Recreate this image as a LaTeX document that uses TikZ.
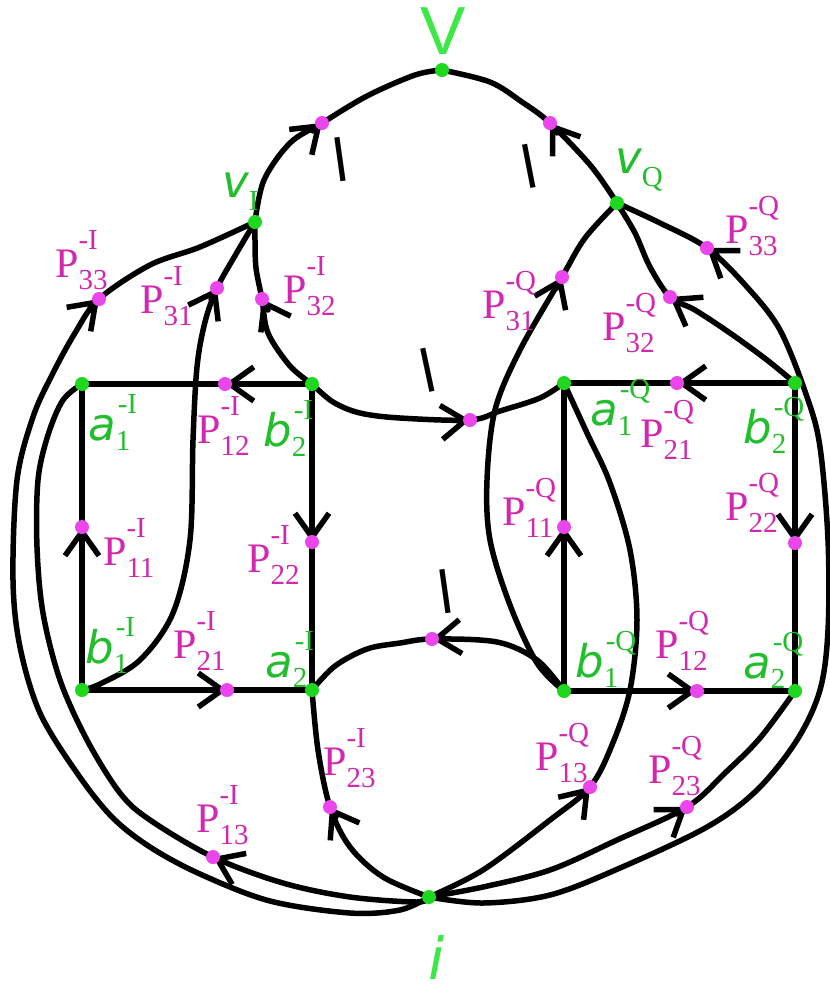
\documentclass[tikz,border=0pt]{standalone}
\usepackage{fontspec}
\setmainfont{Liberation Serif}
\newfontfamily\handfont{DejaVu Sans}
\newfontfamily\bigsans{Liberation Sans}
\usetikzlibrary{arrows.meta,calc}
\definecolor{gdot}{RGB}{30,215,30}
\definecolor{glab}{RGB}{35,190,45}
\definecolor{gbig}{RGB}{60,232,70}
\definecolor{mdot}{RGB}{235,70,235}
\definecolor{mlab}{RGB}{210,40,175}
\newlength\scrw
\newcommand\subsup[4]{%
  \setbox0=\hbox{#1}\setbox2=\hbox{#2}%
  \scrw=\wd0 \ifdim\wd2>\scrw \scrw=\wd2 \fi
  \rlap{\raise#3\box0}\rlap{\raise#4\box2}\kern\scrw}
\newcommand\scrfont{\fontsize{29pt}{29pt}\selectfont}
\newcommand\Plab[5]{\node[plab] (#1) at (#2,#3) {P\subsup{\scrfont #4}{\scrfont #5}{-12pt}{28pt}};}
\newcommand\Glab[6]{\node[glabel] (#1) at (#2,#3) {{\handfont\itshape #4}\subsup{\scrfont #5}{\kern2pt\scrfont #6}{-10pt}{27pt}};}
\newcommand\arrowat[3]{\draw[edge,arr] ($(#1)+(#2,#3)$) -- (#1);}
\tikzset{
  edge/.style={line width=5.5pt,line cap=round,line join=round,black},
  arr/.style={-{Straight Barb[length=24pt,width=34pt]}},
  gd/.style={circle,fill=gdot,inner sep=0pt,minimum size=14pt},
  md/.style={circle,fill=mdot,inner sep=0pt,minimum size=14pt},
  plab/.style={anchor=base west,inner sep=0pt,text=mlab,font=\fontsize{42pt}{42pt}\selectfont},
  glabel/.style={anchor=base west,inner sep=0pt,text=glab,font=\fontsize{45pt}{45pt}\selectfont},
  ell/.style={inner sep=0pt,text=black,font=\handfont\fontsize{58pt}{58pt}\selectfont},
  sm/.style={smooth,tension=0.55}
}
\begin{document}
\begin{tikzpicture}[x=1pt,y=-1pt]
\fill[white] (0,0) rectangle (830,994);
\useasboundingbox (0,0) rectangle (830,994);
% green vertices
\coordinate (V) at (442,70);
\coordinate (vI) at (255,222);
\coordinate (vQ) at (617,203);
\coordinate (a1I) at (82,384);
\coordinate (b2I) at (312,384);
\coordinate (b1I) at (82,690);
\coordinate (a2I) at (312,690);
\coordinate (a1Q) at (564,383);
\coordinate (b2Q) at (795,383);
\coordinate (b1Q) at (564,691);
\coordinate (a2Q) at (795,691);
\coordinate (i) at (429,897);
% magenta points
\coordinate (mVI) at (322,123);
\coordinate (mVQ) at (550,123);
\coordinate (P33I) at (99,299);
\coordinate (P31I) at (217,288);
\coordinate (P32I) at (262,299);
\coordinate (P12I) at (225,384);
\coordinate (P11I) at (82,527);
\coordinate (P21I) at (227,690);
\coordinate (P22I) at (312,542);
\coordinate (P23I) at (330,807);
\coordinate (P13I) at (213,857);
\coordinate (mM1) at (470,420);
\coordinate (mM2) at (432,639);
\coordinate (P31Q) at (562,277);
\coordinate (P32Q) at (670,297);
\coordinate (P33Q) at (707,248);
\coordinate (P21Q) at (677,383);
\coordinate (P11Q) at (564,527);
\coordinate (P22Q) at (795,543);
\coordinate (P12Q) at (697,691);
\coordinate (P13Q) at (590,787);
\coordinate (P23Q) at (687,807);
% top arcs
\draw[edge] plot[sm] coordinates {(vI) (264,180) (290,143) (mVI) (367,96) (415,75) (V)};
\draw[edge] plot[sm] coordinates {(vQ) (591,166) (mVQ) (522,102) (490,82) (V)};
% edges into v_I
\draw[edge] plot[sm] coordinates {(i) (400,910) (350,913) (270,901) (200,874) (150,847) (112,817) (77,773) (40,713) (20,647) (13,580) (17,480) (33,417) (52,375) (75,333) (P33I) (150,265) (200,247) (vI)};
\draw[edge] plot[sm] coordinates {(b1I) (100,684) (140,660) (173,613) (190,540) (193,440) (197,367) (205,322) (P31I) (236,254) (vI)};
\draw[edge] plot[sm] coordinates {(b2I) (290,366) (268,333) (P32I) (256,268) (255,240) (vI)};
% edges into v_Q
\draw[edge] plot[sm] coordinates {(b1Q) (537,663) (510,605) (490,540) (487,480) (495,410) (520,350) (P31Q) (585,238) (vQ)};
\draw[edge] plot[sm] coordinates {(b2Q) (767,360) (730,333) (695,310) (P32Q) (650,267) (635,233) (vQ)};
\draw[edge] plot[sm] coordinates {(i) (483,903) (550,895) (620,868) (707,827) (757,790) (797,740) (820,690) (828,630) (828,540) (820,447) (807,397) (780,330) (747,287) (P33Q) (660,223) (vQ)};
% middle edges
\draw[edge] plot[sm] coordinates {(b2I) (333,402) (360,413) (400,418) (mM1) (500,411) (540,398) (a1Q)};
\draw[edge] plot[sm] coordinates {(b1Q) (537,660) (497,642) (mM2) (400,643) (367,649) (335,666) (a2I)};
% edges from i
\draw[edge] plot[sm] coordinates {(i) (417,902) (350,897) (283,883) (P13I) (150,820) (120,793) (87,740) (60,680) (43,613) (37,547) (38,480) (48,435) (63,400) (a1I)};
\draw[edge] plot[sm] coordinates {(i) (383,877) (350,847) (P23I) (318,750) (a2I)};
\draw[edge] plot[sm] coordinates {(i) (483,870) (550,820) (P13Q) (612,745) (630,690) (637,620) (630,550) (610,483) (587,433) (a1Q)};
\draw[edge] plot[sm] coordinates {(i) (483,887) (550,870) (617,840) (P23Q) (725,773) (760,738) (a2Q)};
% squares
\draw[edge,arr] (b2I) -- (P12I); \draw[edge] (P12I) -- (a1I);
\draw[edge,arr] (b1I) -- (P11I); \draw[edge] (P11I) -- (a1I);
\draw[edge,arr] (b1I) -- (P21I); \draw[edge] (P21I) -- (a2I);
\draw[edge,arr] (b2I) -- (P22I); \draw[edge] (P22I) -- (a2I);
\draw[edge,arr] (b2Q) -- (P21Q); \draw[edge] (P21Q) -- (a1Q);
\draw[edge,arr] (b1Q) -- (P11Q); \draw[edge] (P11Q) -- (a1Q);
\draw[edge,arr] (b1Q) -- (P12Q); \draw[edge] (P12Q) -- (a2Q);
\draw[edge,arr] (b2Q) -- (P22Q); \draw[edge] (P22Q) -- (a2Q);
% arrow heads on curves
\arrowat{mVI}{-9}{8}
\arrowat{mVQ}{7}{10}
\arrowat{P33I}{-9}{9}
\arrowat{P31I}{-6}{11}
\arrowat{P32I}{6}{11}
\arrowat{P23I}{6}{10}
\arrowat{P13I}{11}{5}
\arrowat{mM1}{-12}{1}
\arrowat{mM2}{12}{-1}
\arrowat{P31Q}{-5}{11}
\arrowat{P32Q}{10}{6}
\arrowat{P33Q}{10}{7}
\arrowat{P13Q}{-8}{9}
\arrowat{P23Q}{-10}{7}
% dots
\foreach \n in {V,vI,vQ,a1I,b2I,b1I,a2I,a1Q,b2Q,b1Q,a2Q,i}
  \node[gd] (\n-dot) at (\n) {};
\foreach \n in {mVI,mVQ,P33I,P31I,P32I,P12I,P11I,P21I,P22I,P23I,P13I,mM1,mM2,P31Q,P32Q,P33Q,P21Q,P11Q,P22Q,P12Q,P13Q,P23Q}
  \node[md] (\n-dot) at (\n) {};
% l marks
\node[ell,rotate=8] (l1) at (340,160) {l};
\node[ell,rotate=11] (l2) at (529,166) {l};
\node[ell,rotate=12] (l3) at (428,370) {l};
\node[ell,rotate=8] (l4) at (445,592) {l};
% big labels
\node[inner sep=0pt,text=gbig,font=\bigsans\fontsize{68pt}{68pt}\selectfont] (Vlab) at (443,31) {V};
\node[inner sep=0pt,text=gbig,font=\handfont\itshape\fontsize{58pt}{58pt}\selectfont] (ilab) at (437,957) {i};
\node[glabel] (vIlab) at (222,197) {{\handfont\itshape v}\subsup{\scrfont I}{}{-13pt}{0pt}};
\node[glabel] (vQlab) at (615,173) {{\handfont\itshape v}\subsup{\scrfont Q}{}{-13pt}{0pt}};
% green vertex labels
\Glab{la1I}{88}{440}{a}{1}{-I}
\Glab{lb2I}{263}{446}{b}{2}{-I}
\Glab{lb1I}{85}{663}{b}{1}{-I}
\Glab{la2I}{265}{677}{a}{2}{-I}
\Glab{la1Q}{590}{425}{a}{1}{-Q}
\Glab{lb2Q}{743}{443}{b}{2}{-Q}
\Glab{lb1Q}{575}{677}{b}{1}{-Q}
\Glab{la2Q}{743}{678}{a}{2}{-Q}
% magenta labels
\Plab{lP33I}{55}{277}{33}{-I}
\Plab{lP31I}{140}{313}{31}{-I}
\Plab{lP32I}{283}{303}{32}{-I}
\Plab{lP12I}{197}{443}{12}{-I}
\Plab{lP11I}{103}{565}{11}{-I}
\Plab{lP21I}{173}{658}{21}{-I}
\Plab{lP22I}{247}{572}{22}{-I}
\Plab{lP23I}{323}{775}{23}{-I}
\Plab{lP13I}{196}{832}{13}{-I}
\Plab{lP31Q}{482}{318}{31}{-Q}
\Plab{lP32Q}{602}{340}{32}{-Q}
\Plab{lP33Q}{725}{243}{33}{-Q}
\Plab{lP21Q}{640}{447}{21}{-Q}
\Plab{lP11Q}{502}{525}{11}{-Q}
\Plab{lP22Q}{725}{520}{22}{-Q}
\Plab{lP12Q}{655}{658}{12}{-Q}
\Plab{lP13Q}{535}{770}{13}{-Q}
\Plab{lP23Q}{648}{783}{23}{-Q}
\end{tikzpicture}
\end{document}
